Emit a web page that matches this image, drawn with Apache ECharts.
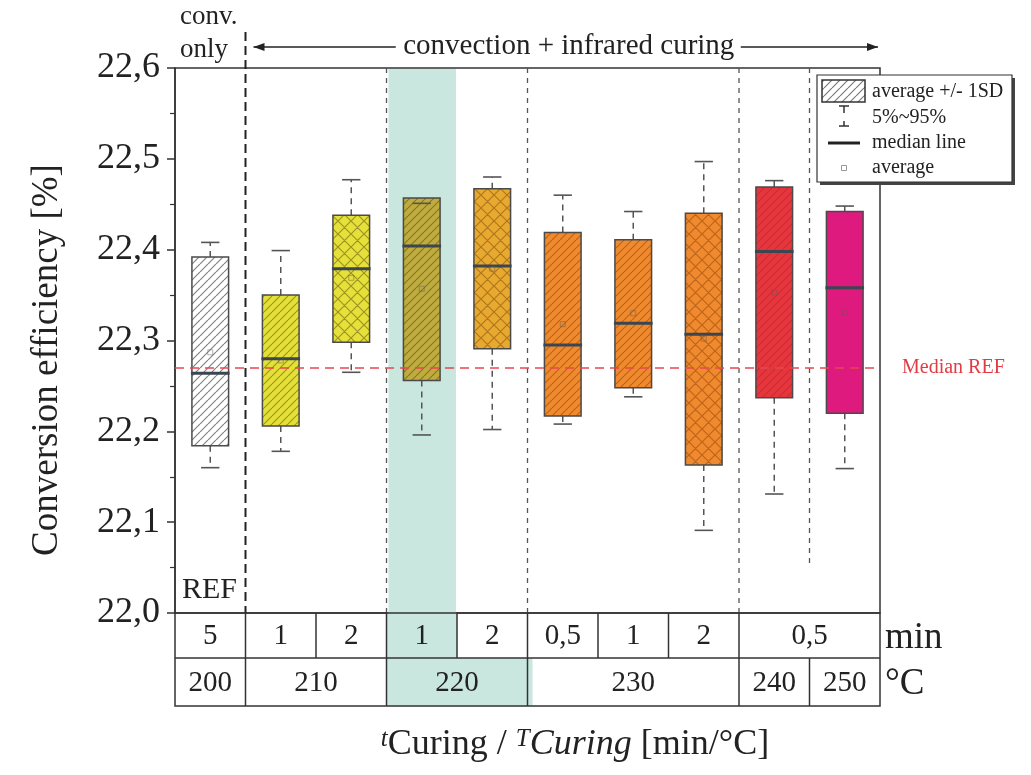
<!DOCTYPE html>
<html><head><meta charset="utf-8">
<script src="https://cdn.jsdelivr.net/npm/echarts@6/dist/echarts.min.js"></script>
<style>html,body{margin:0;padding:0;background:#fff}#c{width:1031px;height:775px}</style>
</head><body><div id="c"></div>
<script>
// ---------- data ----------
const categories = ['200/5','210/1','210/2','220/1','220/2','230/0,5','230/1','230/2','240/0,5','250/0,5'];
const timeLabels = ['5','1','2','1','2','0,5','1','2','0,5','0,5'];
const tempLabels = ['200','210','210','220','220','230','230','230','240','250'];
const p95    = [22.408, 22.399, 22.477, 22.451, 22.480, 22.460, 22.442, 22.497, 22.476, 22.448];
const sdHigh = [22.392, 22.350, 22.438, 22.457, 22.467, 22.419, 22.411, 22.440, 22.469, 22.442];
const median = [22.264, 22.280, 22.379, 22.404, 22.382, 22.295, 22.319, 22.307, 22.398, 22.358];
const average= [22.287, 22.278, 22.369, 22.357, 22.379, 22.318, 22.330, 22.302, 22.353, 22.331];
const sdLow  = [22.184, 22.206, 22.298, 22.256, 22.291, 22.217, 22.248, 22.163, 22.237, 22.220];
const p5     = [22.160, 22.178, 22.265, 22.196, 22.202, 22.208, 22.238, 22.091, 22.131, 22.159];
const medianRef = 22.265;
const yTicks = [22.0, 22.1, 22.2, 22.3, 22.4, 22.5, 22.6];
const highlightIndex = 3;

// ---------- styles ----------
const SERIF = '"Liberation Serif","DejaVu Serif","Times New Roman",serif';
const fills = ['#ffffff','#e5e037','#e6e03a','#bfab3e','#e8a931','#f08a2e','#f08a2e','#f08a2e','#e6363d','#de1a7e'];
const patternKind = ['hatch','hatch','cross','hatch','cross','hatch','hatch','cross','hatch','none'];
const patternColor = ['rgba(90,90,90,0.75)','rgba(110,100,20,0.6)','rgba(110,100,20,0.6)','rgba(90,80,20,0.55)',
  'rgba(130,80,10,0.55)','rgba(150,70,10,0.55)','rgba(150,70,10,0.55)','rgba(150,70,10,0.55)','rgba(160,30,40,0.35)','rgba(0,0,0,0)'];

function makePattern(kind, color, size) {
  const c = document.createElement('canvas');
  c.width = size; c.height = size;
  const g = c.getContext('2d');
  g.strokeStyle = color; g.lineWidth = 1.2;
  g.beginPath();
  for (const o of [-size, 0, size]) { g.moveTo(o, size); g.lineTo(o + size, 0); }
  if (kind === 'cross') for (const o of [-size, 0, size]) { g.moveTo(o, 0); g.lineTo(o + size, size); }
  g.stroke();
  return { image: c, repeat: 'repeat' };
}
const patterns = patternKind.map((k, i) => k === 'none' ? null : makePattern(k, patternColor[i], k === 'cross' ? 13 : 8));

const chart = echarts.init(document.getElementById('c'), null, { renderer: 'canvas' });

const seriesData = categories.map((c, i) => [i, p5[i], sdLow[i], median[i], sdHigh[i], p95[i], average[i]]);

function renderItem(params, api) {
  const i = api.value(0);
  const cx = api.coord([i, 22.3])[0];
  const band = api.size([1, 0])[0];
  const bw = band * 0.52, cw = band * 0.26;
  const Y = k => api.coord([i, api.value(k)])[1];
  const yP5 = Y(1), yLo = Y(2), yMed = Y(3), yHi = Y(4), yP95 = Y(5), yAvg = Y(6);
  const left = cx - bw / 2;
  const ch = [];
  const wStyle = { stroke: '#555', lineWidth: 1.5, lineDash: [6, 5] };
  ch.push({ type: 'line', shape: { x1: cx, y1: yHi, x2: cx, y2: yP95 }, style: wStyle });
  ch.push({ type: 'line', shape: { x1: cx, y1: yLo, x2: cx, y2: yP5 }, style: wStyle });
  ch.push({ type: 'rect', shape: { x: left, y: yHi, width: bw, height: yLo - yHi }, style: { fill: fills[i], stroke: null } });
  if (patterns[i]) ch.push({ type: 'rect', shape: { x: left, y: yHi, width: bw, height: yLo - yHi }, style: { fill: patterns[i], stroke: null } });
  ch.push({ type: 'rect', shape: { x: left, y: yHi, width: bw, height: yLo - yHi }, style: { fill: null, stroke: '#4a4a4a', lineWidth: 1.5 } });
  ch.push({ type: 'line', shape: { x1: cx - cw / 2, y1: yP95, x2: cx + cw / 2, y2: yP95 }, style: { stroke: '#555', lineWidth: 1.6 } });
  ch.push({ type: 'line', shape: { x1: cx - cw / 2, y1: yP5, x2: cx + cw / 2, y2: yP5 }, style: { stroke: '#555', lineWidth: 1.6 } });
  ch.push({ type: 'line', shape: { x1: left - 1, y1: yMed, x2: left + bw + 1, y2: yMed }, style: { stroke: '#3b4650', lineWidth: 3 } });
  ch.push({ type: 'rect', shape: { x: cx - 2.5, y: yAvg - 2.5, width: 5, height: 5 }, style: { fill: null, stroke: 'rgba(90,90,90,0.45)', lineWidth: 1 } });
  return { type: 'group', children: ch };
}

chart.setOption({
  animation: false,
  backgroundColor: '#ffffff',
  grid: { left: 175, right: 151, top: 68, bottom: 162, show: true, borderColor: '#333', borderWidth: 1.5, backgroundColor: 'transparent' },
  xAxis: { type: 'category', data: categories, axisLine: { show: false }, axisTick: { show: false }, axisLabel: { show: false }, splitLine: { show: false } },
  yAxis: {
    type: 'value', min: yTicks[0], max: yTicks[yTicks.length - 1], interval: 0.1,
    axisLine: { show: true, lineStyle: { color: '#333', width: 1.5 } },
    axisTick: { show: true, length: 8, lineStyle: { color: '#333', width: 1.5 } },
    minorTick: { show: true, splitNumber: 2, length: 5, lineStyle: { color: '#333', width: 1.2 } },
    splitLine: { show: false }, minorSplitLine: { show: false },
    axisLabel: { formatter: v => v.toFixed(1).replace('.', ','), fontFamily: SERIF, fontSize: 36, color: '#222', margin: 15 }
  },
  series: [{
    type: 'custom', renderItem, data: seriesData, encode: { x: 0, y: [1, 2, 3, 4, 5] }, z: 3,
    markLine: {
      silent: true, symbol: 'none', data: [{ yAxis: medianRef }],
      lineStyle: { color: '#e5484f', type: [9, 6], width: 1.5 },
      label: { show: true, position: 'end', formatter: 'Median REF', color: '#e03c44', fontFamily: SERIF, fontSize: 20, distance: 22 }
    }
  }]
});

// ---------- overlay graphics computed from the axes ----------
const gx = i => chart.convertToPixel({ xAxisIndex: 0 }, i);
const band = gx(1) - gx(0);
const bound = i => gx(0) - band / 2 + i * band;
const py = v => chart.convertToPixel({ yAxisIndex: 0 }, v);
const yTop = py(yTicks[yTicks.length - 1]), yBot = py(yTicks[0]);
const xL = bound(0), xR = bound(categories.length);
const row1 = 45, row2 = 48;
const tRow1 = yBot, tRow2 = yBot + row1, tEnd = yBot + row1 + row2;

function groups(labels) {
  const out = [];
  labels.forEach((l, i) => {
    const last = out[out.length - 1];
    if (last && last.label === l) last.end = i + 1; else out.push({ label: l, start: i, end: i + 1 });
  });
  return out;
}
const tGroups = groups(timeLabels), cGroups = groups(tempLabels);
const teal = '#c9e7df';
const lineS = { stroke: '#333', lineWidth: 1.5 };
const G = [];
// y axis title
G.push({ type: 'text', z: 5, x: 47, y: 360, rotation: Math.PI / 2, style: { text: 'Conversion efficiency [%]', x: 0, y: 0, align: 'center', verticalAlign: 'middle', font: '37px ' + SERIF, fill: '#222' } });
// teal highlight
G.push({ type: 'rect', z: 0, shape: { x: bound(highlightIndex) + 2, y: yTop + 1, width: band - 3, height: yBot - yTop - 1 }, style: { fill: teal } });
G.push({ type: 'rect', z: 0, shape: { x: bound(highlightIndex), y: tRow1, width: band, height: row1 }, style: { fill: teal } });
const hg = cGroups.find(g => g.start <= highlightIndex && g.end > highlightIndex);
G.push({ type: 'rect', z: 0, shape: { x: bound(hg.start), y: tRow2, width: bound(hg.end) - bound(hg.start) + 5, height: row2 }, style: { fill: teal } });
// separators (temperature group boundaries)
cGroups.slice(1).forEach((g, k) => {
  const x = bound(g.start);
  if (k === 0) {
    G.push({ type: 'line', z: 1, shape: { x1: x, y1: 32, x2: x, y2: yBot }, style: { stroke: '#222', lineWidth: 2, lineDash: [9, 5] } });
  } else {
    const last = k === cGroups.length - 2;
    G.push({ type: 'line', z: 1, shape: { x1: x, y1: yTop, x2: x, y2: last ? py(22.05) : yBot }, style: { stroke: '#555', lineWidth: 1.3, lineDash: [5, 5] } });
  }
});
// table
const tFont = '29px ' + SERIF;
G.push({ type: 'rect', z: 5, shape: { x: xL, y: tRow1, width: xR - xL, height: row1 + row2 }, style: { fill: null, stroke: '#333', lineWidth: 1.5 } });
G.push({ type: 'line', z: 5, shape: { x1: xL, y1: tRow2, x2: xR, y2: tRow2 }, style: lineS });
tGroups.forEach(g => {
  if (g.start > 0) G.push({ type: 'line', z: 5, shape: { x1: bound(g.start), y1: tRow1, x2: bound(g.start), y2: tRow2 }, style: lineS });
  G.push({ type: 'text', z: 5, style: { text: g.label, x: (bound(g.start) + bound(g.end)) / 2, y: tRow1 + row1 / 2 + 1, align: 'center', verticalAlign: 'middle', font: tFont, fill: '#222' } });
});
cGroups.forEach(g => {
  if (g.start > 0) G.push({ type: 'line', z: 5, shape: { x1: bound(g.start), y1: tRow2, x2: bound(g.start), y2: tEnd }, style: lineS });
  G.push({ type: 'text', z: 5, style: { text: g.label, x: (bound(g.start) + bound(g.end)) / 2, y: tRow2 + row2 / 2 + 1, align: 'center', verticalAlign: 'middle', font: tFont, fill: '#222' } });
});
G.push({ type: 'text', z: 5, style: { text: 'min', x: xR + 5, y: tRow1 + row1 / 2 + 3, align: 'left', verticalAlign: 'middle', font: '37px ' + SERIF, fill: '#222' } });
G.push({ type: 'text', z: 5, style: { text: '°C', x: xR + 5, y: tRow2 + row2 / 2 + 2, align: 'left', verticalAlign: 'middle', font: '37px ' + SERIF, fill: '#222' } });
// top annotations
G.push({ type: 'text', z: 5, style: { text: 'conv.', x: xL + 5, y: 17, align: 'left', verticalAlign: 'middle', font: '27px ' + SERIF, fill: '#222' } });
G.push({ type: 'text', z: 5, style: { text: 'only', x: xL + 5, y: 50, align: 'left', verticalAlign: 'middle', font: '27px ' + SERIF, fill: '#222' } });
const aL = bound(1) + 8, aR = xR - 2, aMid = (bound(1) + xR) / 2, aY = 47;
G.push({ type: 'text', z: 5, style: { text: 'convection + infrared curing', x: aMid + 6, y: aY - 1, align: 'center', verticalAlign: 'middle', font: '29px ' + SERIF, fill: '#222' } });
G.push({ type: 'line', z: 5, shape: { x1: aL, y1: aY, x2: aMid - 167, y2: aY }, style: { stroke: '#222', lineWidth: 1.3 } });
G.push({ type: 'line', z: 5, shape: { x1: aMid + 178, y1: aY, x2: aR, y2: aY }, style: { stroke: '#222', lineWidth: 1.3 } });
G.push({ type: 'polygon', z: 5, shape: { points: [[aL, aY], [aL + 11, aY - 4], [aL + 11, aY + 4]] }, style: { fill: '#222' } });
G.push({ type: 'polygon', z: 5, shape: { points: [[aR, aY], [aR - 11, aY - 4], [aR - 11, aY + 4]] }, style: { fill: '#222' } });
G.push({ type: 'text', z: 5, style: { text: 'REF', x: xL + 7, y: py(22.025), align: 'left', verticalAlign: 'middle', font: '30px ' + SERIF, fill: '#222' } });
// x-axis title
G.push({ type: 'text', z: 5, style: {
  text: '{s|t}{n|Curing / }{s|T}{i|Curing}{n| [min/°C]}', x: 575, y: 745, align: 'center', verticalAlign: 'middle',
  rich: {
    s: { fontFamily: SERIF, fontSize: 25, fontStyle: 'italic', verticalAlign: 'top', fill: '#222' },
    n: { fontFamily: SERIF, fontSize: 36, fill: '#222', verticalAlign: 'bottom' },
    i: { fontFamily: SERIF, fontSize: 36, fontStyle: 'italic', fill: '#222', verticalAlign: 'bottom' }
  }
} });
// legend
const lx = 817, ly = 75, lw = 195, lh = 107;
G.push({ type: 'rect', z: 20, shape: { x: lx + 3, y: ly + 3, width: lw, height: lh }, style: { fill: '#444' } });
G.push({ type: 'rect', z: 21, shape: { x: lx, y: ly, width: lw, height: lh }, style: { fill: '#fff', stroke: '#333', lineWidth: 1.2 } });
G.push({ type: 'rect', z: 22, shape: { x: lx + 5, y: ly + 5, width: 43, height: 22 }, style: { fill: makePattern('hatch', 'rgba(90,90,90,0.8)', 8), stroke: '#333', lineWidth: 1.5 } });
const ic = lx + 27;
[[ic - 5, 106, ic + 5, 106], [ic, 106, ic, 113], [ic, 121, ic, 126], [ic - 5, 126, ic + 5, 126]].forEach(s =>
  G.push({ type: 'line', z: 22, shape: { x1: s[0], y1: s[1], x2: s[2], y2: s[3] }, style: { stroke: '#333', lineWidth: 1.5 } }));
G.push({ type: 'line', z: 22, shape: { x1: lx + 11, y1: 143, x2: lx + 43, y2: 143 }, style: { stroke: '#222', lineWidth: 3 } });
G.push({ type: 'rect', z: 22, shape: { x: ic - 2.5, y: 165.5, width: 5, height: 5 }, style: { fill: null, stroke: '#999', lineWidth: 1 } });
[['average +/- 1SD', 92], ['5%~95%', 118], ['median line', 143], ['average', 168]].forEach(t =>
  G.push({ type: 'text', z: 22, style: { text: t[0], x: lx + 55, y: t[1], align: 'left', verticalAlign: 'middle', font: '20px ' + SERIF, fill: '#222' } }));

chart.setOption({ graphic: G });
</script>
</body></html>
